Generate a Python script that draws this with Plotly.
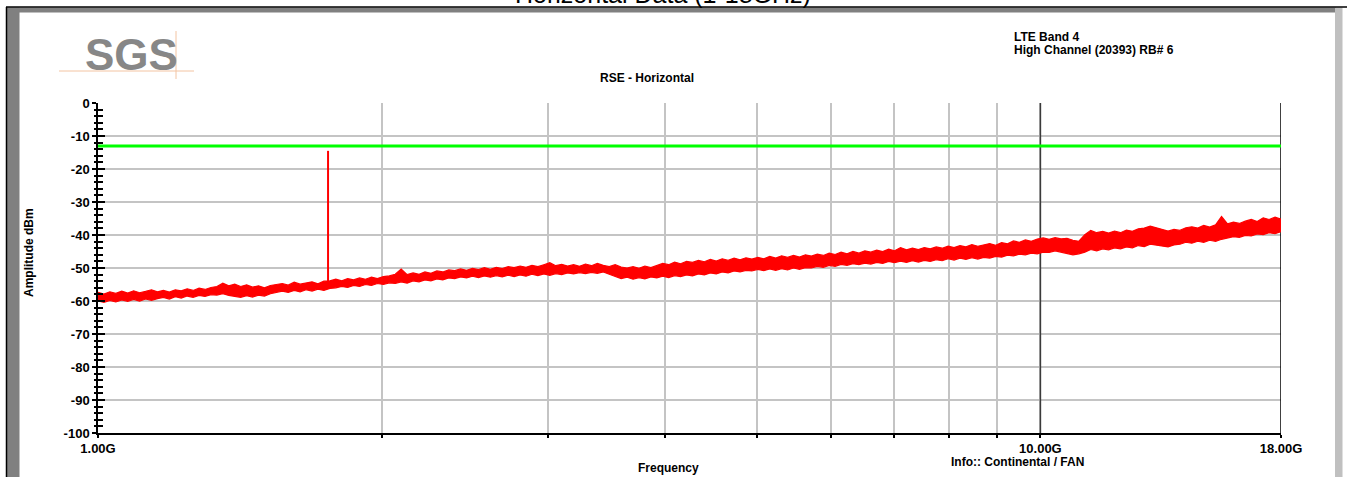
import numpy as np
import plotly.graph_objects as go

# ---------------- data ----------------
f_start_ghz = 1.0
f_stop_ghz = 18.0
n_points = 200

# upper edge of the measured noise trace (dBm)
trace_upper = [
    -57.4, -57.9, -57.2, -57.7, -57.0, -57.6, -56.9, -57.5, -57.1, -56.6,
    -57.2, -56.8, -57.3, -56.6, -56.9, -56.3, -56.8, -56.1, -56.5, -55.9,
    -55.6, -54.6, -55.4, -54.9, -55.6, -55.1, -55.8, -55.4, -56.0, -55.3,
    -55.0, -54.7, -55.2, -54.3, -54.9, -54.5, -54.2, -54.8, -54.0, -53.9,
    -53.4, -53.9, -53.2, -53.6, -53.0, -53.4, -52.8, -53.2, -52.6, -52.4,
    -51.9, -50.3, -52.0, -51.5, -51.9, -51.2, -51.6, -50.9, -51.2, -50.6,
    -50.8, -50.3, -50.7, -50.1, -50.5, -49.9, -50.4, -49.8, -50.2, -49.6,
    -49.9, -49.4, -49.8, -49.2, -49.6, -49.0, -48.4, -49.3, -48.9, -49.4,
    -49.0, -49.5, -48.8, -49.3, -48.6, -49.2, -49.6, -49.0, -49.7, -50.0,
    -49.6, -50.1, -49.4, -49.9, -49.2, -48.6, -49.0, -48.2, -48.7, -48.0,
    -48.3, -47.7, -48.1, -47.4, -47.9, -47.2, -47.7, -47.0, -47.5, -46.9,
    -47.3, -46.8, -47.2, -46.5, -47.0, -46.3, -46.8, -46.2, -46.7, -46.0,
    -46.4, -45.8, -46.2, -45.5, -45.9, -45.2, -45.7, -45.0, -45.5, -44.8,
    -45.2, -44.6, -45.0, -44.3, -44.8, -43.8, -44.5, -44.0, -44.4, -43.8,
    -44.2, -43.6, -44.0, -43.4, -43.8, -43.2, -43.6, -42.9, -43.4, -43.0,
    -42.6, -43.1, -42.3, -42.7, -41.8, -42.2, -41.5, -41.9, -41.2, -40.9,
    -41.3, -40.8, -41.2, -41.0, -41.6, -41.9, -39.9, -38.6, -39.3, -38.9,
    -39.4, -38.8, -39.3, -38.5, -38.9, -38.1, -37.9, -37.3, -37.8, -38.3,
    -38.8, -38.3, -38.6, -37.8, -37.5, -37.9, -37.1, -37.6, -36.9, -34.4,
    -36.6, -36.1, -36.5, -35.8, -35.3, -35.9, -34.8, -35.3, -34.6, -35.2,
]

# lower edge of the measured noise trace (dBm)
trace_lower = [
    -60.0, -60.4, -59.8, -60.3, -59.7, -60.1, -59.5, -60.0, -59.4, -59.8,
    -59.3, -58.9, -59.4, -58.7, -59.1, -58.5, -58.9, -58.3, -58.6, -58.1,
    -58.2, -57.8, -58.3, -58.5, -58.9, -58.4, -58.8, -58.2, -58.5, -57.8,
    -57.5, -57.0, -57.4, -56.8, -57.2, -56.6, -57.0, -56.4, -56.8, -56.2,
    -56.0, -55.6, -55.9, -55.3, -55.6, -55.0, -55.3, -54.7, -55.0, -54.5,
    -54.7, -54.2, -54.6, -53.9, -54.2, -53.6, -53.9, -53.3, -53.6, -53.0,
    -53.2, -52.7, -53.0, -52.5, -52.9, -52.4, -52.8, -52.3, -52.7, -52.2,
    -52.6, -52.1, -52.5, -51.9, -52.3, -51.8, -52.2, -51.7, -52.0, -51.5,
    -51.8, -51.4, -51.7, -51.3, -51.6, -51.2, -51.9, -52.6, -53.2, -52.8,
    -53.4, -52.9, -53.3, -52.7, -53.0, -52.5, -52.9, -52.3, -52.6, -52.1,
    -52.4, -51.8, -52.1, -51.5, -51.8, -51.2, -51.5, -50.9, -51.2, -50.7,
    -50.9, -50.4, -50.8, -50.3, -50.7, -50.2, -50.6, -50.0, -50.4, -49.9,
    -50.0, -49.5, -49.8, -49.2, -49.5, -48.9, -49.2, -48.7, -49.0, -48.5,
    -48.8, -48.3, -48.6, -48.0, -48.4, -47.9, -48.3, -47.8, -48.2, -47.7,
    -48.0, -47.5, -47.8, -47.2, -47.6, -47.0, -47.4, -46.9, -47.3, -46.8,
    -47.0, -46.5, -46.7, -46.1, -46.3, -45.8, -46.0, -45.5, -45.7, -45.2,
    -45.3, -44.8, -45.2, -45.6, -46.0, -45.7, -45.2, -44.4, -44.8, -44.2,
    -44.5, -43.9, -44.2, -43.6, -43.9, -43.2, -43.5, -42.8, -43.1, -43.4,
    -43.6, -43.0, -42.8, -42.2, -42.5, -41.9, -42.2, -41.6, -41.9, -41.3,
    -41.0, -40.5, -40.7, -40.1, -40.3, -39.7, -39.9, -39.3, -39.6, -39.0,
]

# fundamental carrier (LTE Band 4, channel 20393)
spike_freq_ghz = [1.7543, 1.7543]
spike_level_dbm = [-55.0, -14.5]

# limit line
limit_freq_ghz = [1.0, 18.0]
limit_level_dbm = [-13.0, -13.0]

# axes
y_tick_vals = [0, -10, -20, -30, -40, -50, -60, -70, -80, -90, -100]
y_tick_text = ["0", "-10", "-20", "-30", "-40", "-50", "-60", "-70", "-80", "-90", "-100"]
x_tick_vals = [1, 2, 3, 4, 5, 6, 7, 8, 9, 10, 18]
x_tick_text = ["1.00G", "", "", "", "", "", "", "", "", "10.00G", "18.00G"]
marker_freq_ghz = 10.0

freq = np.geomspace(f_start_ghz, f_stop_ghz, n_points)

# ---------------- layout helpers ----------------
W, H = 1347, 477
L, R, T, B = 98, 1281, 103, 433


def px(x):
    return (x - L) / (R - L)


def py(y):
    return (B - y) / (B - T)


FONT = "Liberation Sans, Arial, sans-serif"
RED = "#ff0000"

fig = go.Figure()

# dark 10 GHz line
fig.add_trace(go.Scatter(x=[marker_freq_ghz, marker_freq_ghz], y=[-100, 0], mode="lines",
                         line=dict(color="#3a3a3a", width=1.5), hoverinfo="skip", showlegend=False))
# right border
fig.add_trace(go.Scatter(x=[f_stop_ghz, f_stop_ghz], y=[-100, 0], mode="lines",
                         line=dict(color="#000000", width=1.5), hoverinfo="skip", showlegend=False))

# noise trace band
fig.add_trace(go.Scatter(x=freq, y=trace_upper, mode="lines",
                         line=dict(color=RED, width=1.2), showlegend=False))
fig.add_trace(go.Scatter(x=freq, y=trace_lower, mode="lines", fill="tonexty",
                         fillcolor=RED, line=dict(color=RED, width=1.2), showlegend=False))
# carrier spike
fig.add_trace(go.Scatter(x=spike_freq_ghz, y=spike_level_dbm, mode="lines",
                         line=dict(color=RED, width=2), showlegend=False))
# limit line (on overlay axis that carries the inner ticks)
fig.add_trace(go.Scatter(x=limit_freq_ghz, y=limit_level_dbm, mode="lines", yaxis="y2",
                         line=dict(color="#00ff00", width=3), showlegend=False))

tickfont = dict(family=FONT, size=13, color="#000000", weight="bold")

fig.update_layout(
    width=W, height=H,
    margin=dict(l=L, r=W - R, t=T, b=H - B, autoexpand=False),
    paper_bgcolor="#ffffff", plot_bgcolor="#ffffff",
    showlegend=False,
    xaxis=dict(
        type="log", range=[np.log10(f_start_ghz), np.log10(f_stop_ghz)],
        tickmode="array", tickvals=x_tick_vals, ticktext=x_tick_text,
        ticks="outside", ticklen=3, tickwidth=1.5, tickcolor="#000000",
        showgrid=True, gridcolor="#c4c4c4", gridwidth=1.5,
        showline=True, linecolor="#000000", linewidth=1.5,
        zeroline=False, tickfont=tickfont, automargin=False,
    ),
    yaxis=dict(
        range=[-100, 0], tickmode="array", tickvals=y_tick_vals, ticktext=y_tick_text,
        ticks="outside", ticklen=4, tickwidth=1.5, tickcolor="#000000",
        minor=dict(tickmode="linear", tick0=0, dtick=2, ticks="outside", ticklen=2,
                   tickwidth=1.5, tickcolor="#000000", showgrid=False),
        showgrid=True, gridcolor="#c4c4c4", gridwidth=1.5,
        showline=True, linecolor="#000000", linewidth=1.5,
        zeroline=False, tickfont=tickfont, automargin=False,
    ),
    yaxis2=dict(
        overlaying="y", side="left", range=[-100, 0],
        tickmode="array", tickvals=y_tick_vals, ticks="inside", ticklen=7,
        tickwidth=1.5, tickcolor="#000000", showticklabels=False,
        minor=dict(tickmode="linear", tick0=0, dtick=2, ticks="inside", ticklen=5,
                   tickwidth=1.5, tickcolor="#000000", showgrid=False),
        showgrid=False, showline=False, zeroline=False, automargin=False,
    ),
)

shapes = []
# frame
shapes.append(dict(type="rect", xref="paper", yref="paper", x0=px(7), x1=px(1336), y0=py(12.5), y1=py(7.5),
                   fillcolor="#808080", line=dict(width=0), layer="above"))
shapes.append(dict(type="rect", xref="paper", yref="paper", x0=px(7), x1=px(19.5), y0=py(480), y1=py(7.5),
                   fillcolor="#808080", line=dict(width=0), layer="above"))
shapes.append(dict(type="rect", xref="paper", yref="paper", x0=px(1335), x1=px(1342.5), y0=py(480), y1=py(7.5),
                   fillcolor="#c0c0c0", line=dict(width=0), layer="above"))
shapes.append(dict(type="line", xref="paper", yref="paper", x0=px(6), x1=px(1350), y0=py(7), y1=py(7),
                   line=dict(color="#000000", width=1.5), layer="above"))
shapes.append(dict(type="line", xref="paper", yref="paper", x0=px(6.5), x1=px(6.5), y0=py(7), y1=py(480),
                   line=dict(color="#000000", width=1.5), layer="above"))
# logo lines
shapes.append(dict(type="line", xref="paper", yref="paper", x0=px(59), x1=px(194), y0=py(71), y1=py(71),
                   line=dict(color="#f3c4a2", width=1), layer="above"))
shapes.append(dict(type="line", xref="paper", yref="paper", x0=px(176), x1=px(176), y0=py(31), y1=py(79),
                   line=dict(color="#f3c4a2", width=1), layer="above"))
fig.update_layout(shapes=shapes)

bold12 = dict(family=FONT, size=12, color="#000000", weight="bold")
ann = []
ann.append(dict(text="Horizontal Data (1-18GHz)", x=px(663), y=py(-6), xref="paper", yref="paper",
                showarrow=False, xanchor="center", yanchor="middle",
                font=dict(family=FONT, size=25, color="#000000")))
ann.append(dict(text="SGS", x=px(131), y=py(55), xref="paper", yref="paper", showarrow=False,
                xanchor="center", yanchor="middle",
                font=dict(family=FONT, size=44, color="#878787", weight="bold")))
ann.append(dict(text="LTE Band 4", x=px(1012), y=py(37), xref="paper", yref="paper", showarrow=False,
                xanchor="left", yanchor="middle", font=bold12))
ann.append(dict(text="High Channel (20393) RB# 6", x=px(1012), y=py(50), xref="paper", yref="paper",
                showarrow=False, xanchor="left", yanchor="middle", font=bold12))
ann.append(dict(text="RSE - Horizontal", x=px(647), y=py(78), xref="paper", yref="paper", showarrow=False,
                xanchor="center", yanchor="middle", font=bold12))
ann.append(dict(text="Frequency", x=px(668), y=py(468), xref="paper", yref="paper", showarrow=False,
                xanchor="center", yanchor="middle", font=bold12))
ann.append(dict(text="Info:: Continental / FAN", x=px(1017), y=py(462), xref="paper", yref="paper",
                showarrow=False, xanchor="center", yanchor="middle", font=bold12))
ann.append(dict(text="Amplitude dBm", x=px(29), y=py(253), xref="paper", yref="paper", showarrow=False,
                xanchor="center", yanchor="middle", textangle=-90, font=bold12))
fig.update_layout(annotations=ann)

fig.write_html("out.html", config={"displayModeBar": False},
               post_script="document.body.style.margin='0px';document.body.style.overflow='hidden';")
